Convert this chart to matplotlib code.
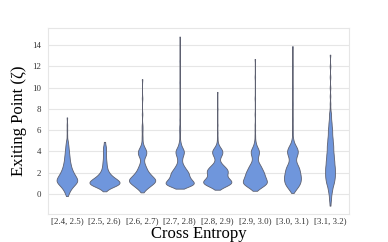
import numpy as np
import matplotlib
matplotlib.use("Agg")
import matplotlib.pyplot as plt

categories = ["[2.4, 2.5)", "[2.5, 2.6)", "[2.6, 2.7)", "[2.7, 2.8)",
              "[2.8, 2.9)", "[2.9, 3.0)", "[3.0, 3.1)", "[3.1, 3.2)"]

# observed exiting points (value, count) per cross-entropy bin
vals_24 = [-0.2, 0.0, 0.25, 0.5, 0.75, 1.0, 1.25, 1.5, 1.75, 2.0, 2.25, 2.5, 2.75, 3.0,
           3.25, 3.5, 3.75, 4.0, 4.25, 4.5, 4.75, 5.0, 5.5, 6.0, 6.5, 7.2]
cnts_24 = [1, 3, 5, 8, 12, 17, 20, 18, 15, 12, 10, 8, 7, 6,
           5, 5, 4, 4, 3, 3, 2, 2, 1, 1, 1, 1]
vals_25 = [0.25, 0.5, 0.75, 1.0, 1.25, 1.5, 1.75, 2.0, 2.25, 2.5, 2.75, 3.0,
           3.25, 3.5, 3.75, 4.0, 4.25, 4.5, 4.9]
cnts_25 = [2, 8, 22, 32, 28, 20, 13, 9, 6, 5, 4, 4,
           3, 3, 3, 3, 3, 3, 2]
vals_26 = [0.15, 0.4, 0.65, 0.9, 1.15, 1.4, 1.65, 1.9, 2.15, 2.4, 2.65, 2.9, 3.15,
           3.4, 3.65, 3.9, 4.15, 4.4, 4.65, 4.9, 5.2, 5.5, 5.9, 6.2, 6.5, 7.5, 9.0, 10.8]
cnts_26 = [2, 6, 12, 18, 24, 24, 18, 14, 10, 8, 6, 4, 3,
           4, 7, 8, 7, 4, 2, 1, 1, 1, 1, 1, 1, 1, 1, 1]
vals_27 = [0.5, 0.75, 1.0, 1.25, 1.5, 1.75, 2.0, 2.25, 2.5, 2.75, 3.0, 3.25, 3.5,
           3.75, 4.0, 4.25, 4.5, 4.75, 5.0, 5.4, 5.8, 6.1, 6.4, 7.0, 8.5, 10.5, 12.5, 14.8]
cnts_27 = [4, 20, 28, 22, 18, 16, 16, 12, 9, 6, 4, 4, 5,
           7, 8, 6, 3, 2, 1, 1, 1, 1, 1, 1, 1, 1, 1, 1]
vals_28 = [0.4, 0.65, 0.9, 1.15, 1.4, 1.65, 1.9, 2.15, 2.4, 2.65, 2.9, 3.15, 3.4,
           3.65, 3.9, 4.15, 4.4, 4.65, 4.9, 5.3, 5.8, 6.5, 8.0, 9.6]
cnts_28 = [3, 12, 24, 28, 22, 17, 18, 20, 17, 12, 7, 4, 5,
           8, 10, 9, 5, 2, 1, 1, 1, 1, 1, 1]
vals_29 = [0.3, 0.55, 0.8, 1.05, 1.3, 1.55, 1.8, 2.05, 2.3, 2.55, 2.8, 3.05, 3.3,
           3.55, 3.8, 4.05, 4.3, 4.55, 4.8, 5.1, 5.5, 6.0, 6.5, 7.5, 9.0, 11.0, 12.7]
cnts_29 = [3, 10, 18, 24, 22, 20, 18, 17, 14, 12, 9, 6, 5,
           6, 8, 8, 6, 3, 2, 1, 1, 1, 1, 1, 1, 1, 1]
vals_30 = [0.1, 0.35, 0.6, 0.85, 1.1, 1.35, 1.6, 1.85, 2.1, 2.35, 2.6, 2.85, 3.1,
           3.35, 3.6, 3.85, 4.1, 4.35, 4.6, 4.85, 5.1, 5.4, 5.8, 6.3, 7.0, 8.5, 10.0, 12.0, 13.9]
cnts_30 = [2, 6, 10, 14, 16, 17, 17, 16, 15, 14, 12, 9, 7,
           7, 9, 11, 11, 9, 6, 3, 2, 1, 1, 1, 1, 1, 1, 1, 1]
vals_31 = [-1.1, -0.8, -0.5, -0.2, 0.1, 0.4, 0.7, 1.0, 1.3, 1.6, 1.9, 2.2, 2.5, 2.8,
           3.1, 3.4, 3.7, 4.0, 4.3, 4.6, 4.9, 5.2, 5.5, 5.8, 6.1, 6.4, 6.7, 7.0, 7.3,
           7.6, 8.0, 8.5, 9.2, 10.0, 11.0, 12.0, 13.1]
cnts_31 = [1, 1, 2, 2, 3, 4, 5, 7, 8, 9, 9, 9, 9, 8,
           8, 7, 7, 6, 6, 6, 5, 5, 4, 4, 4, 3, 3, 2, 2,
           2, 1, 1, 1, 1, 1, 1, 1]

all_vals = [vals_24, vals_25, vals_26, vals_27, vals_28, vals_29, vals_30, vals_31]
all_cnts = [cnts_24, cnts_25, cnts_26, cnts_27, cnts_28, cnts_29, cnts_30, cnts_31]
y_ticks = [0, 2, 4, 6, 8, 10, 12, 14]

samples = [np.repeat(v, c) for v, c in zip(all_vals, all_cnts)]

BW = 0.2


def fixed_bw(kde):
    return BW / np.std(kde.dataset, ddof=1)


plt.rcParams['font.family'] = ['Liberation Serif', 'DejaVu Serif']

fig = plt.figure(figsize=(3.88, 2.42), dpi=100)
ax = fig.add_axes([0.124, 0.115, 0.775, 0.769])

pos = np.arange(len(categories))
widths = [0.55, 0.8, 0.7, 0.75, 0.75, 0.64, 0.45, 0.26]
parts = ax.violinplot(samples, positions=pos, widths=widths, bw_method=fixed_bw,
                      showextrema=False, points=400)
for b in parts['bodies']:
    b.set_facecolor('#6f96dc')
    b.set_edgecolor('#5d6070')
    b.set_linewidth(0.6)
    b.set_alpha(1)

ax.set_xlim(-0.5, 7.5)
ax.set_ylim(-1.9, 15.6)
ax.set_xticks(pos)
ax.set_xticklabels(categories, fontsize=6.4, color='#333333')
ax.set_yticks(y_ticks)
ax.set_yticklabels([str(t) for t in y_ticks], fontsize=6.4, color='#333333')
ax.tick_params(length=0)
ax.tick_params(axis='x', pad=2.5)
ax.tick_params(axis='y', pad=5)
ax.yaxis.grid(True, color='#e6e6e6', linewidth=0.8)
ax.set_axisbelow(True)
for s in ax.spines.values():
    s.set_color('#e6e6e6')
    s.set_linewidth(0.8)

ax.set_ylabel("Exiting Point (ζ)", fontsize=12, labelpad=4)
ax.set_xlabel("Cross Entropy", fontsize=12, labelpad=0)

fig.savefig("out.png", dpi=100)
